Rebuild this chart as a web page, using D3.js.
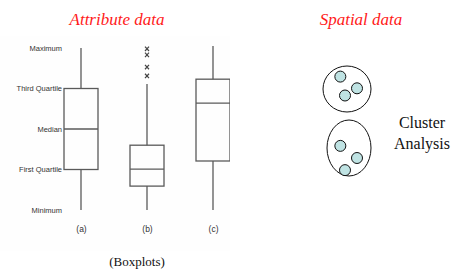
<!DOCTYPE html>
<html>
<head>
<meta charset="utf-8">
<script src="https://cdn.jsdelivr.net/npm/d3@7"></script>
<style>
  body { margin: 0; background: #fff; }
</style>
</head>
<body>
<div id="main"></div>
<script>
// boxplot values (0 = Minimum ... 4 = Maximum)
const boxNames = ["a", "b", "c"];
const boxMin = [0, 0, 0];
const boxQ1 = [1, 0.59, 1.21];
const boxMedian = [2, 1.01, 2.64];
const boxQ3 = [3, 1.6, 3.23];
const boxMax = [4, 3.11, 4.05];
const outliersB = [3.98, 3.83, 3.53, 3.31];
const tickValues = [0, 1, 2, 3, 4];
const tickLabels = ["Minimum", "First Quartile", "Median", "Third Quartile", "Maximum"];

// spatial clusters: [cluster, x, y] in local units
const clusterNames = ["top", "bottom"];
const pointCluster = [0, 0, 0, 1, 1, 1];
const pointX = [0.5, 3, 1.2, 0.5, 3, 1.2];
const pointY = [0.4, 1.7, 2.5, 0.2, 1.5, 2.8];

const SERIF = "'Liberation Serif', 'Times New Roman', serif";
const SANS = "'Liberation Sans', Arial, sans-serif";

const W = 461, H = 274;
const svg = d3.select("#main").append("svg")
  .attr("width", W).attr("height", H);

// titulos
svg.append("text").attr("x", 117).attr("y", 25)
  .attr("text-anchor", "middle")
  .style("font-family", SERIF).style("font-style", "italic")
  .style("font-size", "17px").attr("fill", "#ff1a1a").text("Attribute data");
svg.append("text").attr("x", 361).attr("y", 25)
  .attr("text-anchor", "middle")
  .style("font-family", SERIF).style("font-style", "italic")
  .style("font-size", "17px").attr("fill", "#ff1a1a").text("Spatial data");

// boxplot panel
const defs = svg.append("defs");
defs.append("clipPath").attr("id", "clipBox")
  .append("rect").attr("x", 0).attr("y", 36).attr("width", 230).attr("height", 215);

svg.append("rect").attr("x", 0).attr("y", 36).attr("width", 230).attr("height", 215)
  .attr("fill", "#fefefe");

const y = d3.scaleLinear().domain([0, 4]).range([210, 48]);
const x = d3.scalePoint().domain(boxNames).range([81, 213]);
const bw = 34;
const stroke = "#5a5a5a";

const g = svg.append("g").attr("clip-path", "url(#clipBox)");

const boxes = boxNames.map((n, i) => ({
  name: n, min: boxMin[i], q1: boxQ1[i], med: boxMedian[i], q3: boxQ3[i], max: boxMax[i]
}));

const bg = g.selectAll("g.box").data(boxes).join("g").attr("class", "box");
// whiskers
bg.append("line")
  .attr("x1", d => x(d.name)).attr("x2", d => x(d.name))
  .attr("y1", d => y(d.min)).attr("y2", d => y(d.q1))
  .attr("stroke", stroke).attr("stroke-width", 1.3);
bg.append("line")
  .attr("x1", d => x(d.name)).attr("x2", d => x(d.name))
  .attr("y1", d => y(d.q3)).attr("y2", d => y(d.max))
  .attr("stroke", stroke).attr("stroke-width", 1.3);
bg.append("rect")
  .attr("x", d => x(d.name) - bw / 2).attr("width", bw)
  .attr("y", d => y(d.q3)).attr("height", d => y(d.q1) - y(d.q3))
  .attr("fill", "none").attr("stroke", stroke).attr("stroke-width", 1.3);
bg.append("line")
  .attr("x1", d => x(d.name) - bw / 2).attr("x2", d => x(d.name) + bw / 2)
  .attr("y1", d => y(d.med)).attr("y2", d => y(d.med))
  .attr("stroke", stroke).attr("stroke-width", 1.3);

// outliers (b)
g.selectAll("path.out").data(outliersB).join("path")
  .attr("class", "out")
  .attr("transform", d => `translate(${x("b")},${y(d)})`)
  .attr("d", "M-2,-2.2L2,2.2M2,-2.2L-2,2.2")
  .attr("stroke", "#444").attr("stroke-width", 1.2);

// eixo Y com rotulos
const yAxis = d3.axisLeft(y).tickValues(tickValues)
  .tickSize(0).tickPadding(0)
  .tickFormat((d, i) => tickLabels[i]);
const ya = svg.append("g").attr("transform", "translate(62,0)").call(yAxis);
ya.select(".domain").remove();
ya.selectAll("text")
  .style("font-family", SANS).style("font-size", "7.5px")
  .attr("fill", "#333").attr("dy", "0.32em");

// eixo X
const xAxis = d3.axisBottom(x).tickSize(0).tickPadding(0)
  .tickFormat(d => `(${d})`);
const xa = svg.append("g").attr("transform", "translate(0,226)").call(xAxis);
xa.select(".domain").remove();
xa.selectAll("text")
  .style("font-family", SANS).style("font-size", "8.5px")
  .attr("fill", "#333").attr("dy", "0.71em").attr("y", 0);

svg.append("text").attr("x", 137).attr("y", 266)
  .attr("text-anchor", "middle")
  .style("font-family", SERIF).style("font-size", "13px")
  .attr("fill", "#111").text("(Boxplots)");

// spatial clusters
const ellCx = [347, 349], ellCy = [89, 148], ellRx = [24, 22], ellRy = [23, 28];
svg.selectAll("ellipse.cl").data(clusterNames).join("ellipse")
  .attr("class", "cl")
  .attr("cx", (d, i) => ellCx[i]).attr("cy", (d, i) => ellCy[i])
  .attr("rx", (d, i) => ellRx[i]).attr("ry", (d, i) => ellRy[i])
  .attr("fill", "none").attr("stroke", "#111").attr("stroke-width", 1);

const px = d3.scaleLinear().domain([0, 3]).range([337, 357]);
const pyTop = d3.scaleLinear().domain([0, 3]).range([73, 100]);
const pyBot = d3.scaleLinear().domain([0, 3]).range([144, 172]);
const pts = pointCluster.map((c, i) => ({ c, x: pointX[i], y: pointY[i] }));
svg.selectAll("circle.pt").data(pts).join("circle")
  .attr("class", "pt")
  .attr("cx", d => px(d.x))
  .attr("cy", d => d.c === 0 ? pyTop(d.y) : pyBot(d.y))
  .attr("r", 5.5)
  .attr("fill", "#bfe3e3").attr("stroke", "#111").attr("stroke-width", 1);

svg.append("text").attr("x", 422).attr("y", 128)
  .attr("text-anchor", "middle")
  .style("font-family", SERIF).style("font-size", "16px")
  .attr("fill", "#111").text("Cluster");
svg.append("text").attr("x", 422).attr("y", 149)
  .attr("text-anchor", "middle")
  .style("font-family", SERIF).style("font-size", "16px")
  .attr("fill", "#111").text("Analysis");
</script>
</body>
</html>
